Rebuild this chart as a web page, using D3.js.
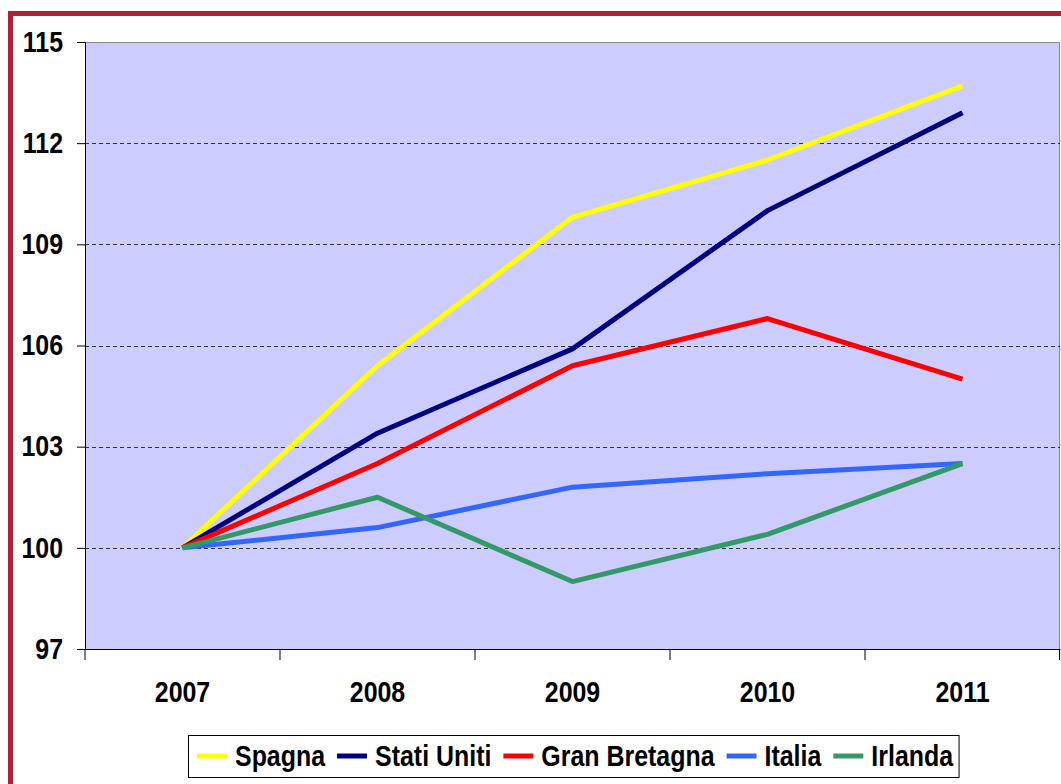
<!DOCTYPE html>
<html>
<head>
<meta charset="utf-8">
<script src="https://cdn.jsdelivr.net/npm/d3@7"></script>
<style>
  body { margin: 0; background: #fff; }
  text { font-family: "Liberation Sans", Arial, sans-serif; font-weight: bold; }
</style>
</head>
<body>
<div id="chart"></div>
<script>
// data
var years = ["2007", "2008", "2009", "2010", "2011"];
var yTicks = [97, 100, 103, 106, 109, 112, 115];
var seriesNames = ["Spagna", "Stati Uniti", "Gran Bretagna", "Italia", "Irlanda"];
var seriesColors = ["#ffff00", "#000080", "#ff0000", "#3366ff", "#339966"];
var spagna = [100, 105.4, 109.8, 111.5, 113.7];
var statiUniti = [100, 103.4, 105.9, 110.0, 112.9];
var granBretagna = [100, 102.5, 105.4, 106.8, 105.0];
var italia = [100, 100.6, 101.8, 102.2, 102.5];
var irlanda = [100, 101.5, 99.0, 100.4, 102.5];
var allSeries = [spagna, statiUniti, granBretagna, italia, irlanda];

var W = 1061, H = 784;
var sx = 0.86; // text in the original is horizontally squeezed
var margin = {top: 42, right: 1, bottom: 135, left: 85},
    width = W - margin.left - margin.right,
    height = H - margin.top - margin.bottom;

var svg = d3.select("#chart").append("svg")
    .attr("width", W).attr("height", H);

// outer red frame (right/bottom sides fall outside the picture)
svg.append("rect")
    .attr("x", 10.5).attr("y", 13.5)
    .attr("width", W + 20).attr("height", H + 20)
    .attr("fill", "#fff").attr("stroke", "#b3202f").attr("stroke-width", 5);

var g = svg.append("g")
    .attr("transform", "translate(" + margin.left + "," + margin.top + ")");

var x = d3.scaleBand().domain(years).range([0, width]).padding(0);
var y = d3.scaleLinear().domain([97, 115]).range([height, 0]);

// plot area
g.append("rect")
    .attr("width", width).attr("height", height)
    .attr("fill", "#ccccff");
g.append("path")
    .attr("d", "M0,0.5H" + (width - 0.5) + "V" + height)
    .attr("fill", "none").attr("stroke", "#888").attr("stroke-width", 1);

// grid
g.selectAll(".grid").data(yTicks.filter(function(d){ return d > 97 && d < 115; }))
  .enter().append("line")
    .attr("x1", 0).attr("x2", width)
    .attr("y1", function(d){ return Math.round(y(d)) + 0.5; })
    .attr("y2", function(d){ return Math.round(y(d)) + 0.5; })
    .attr("stroke", "#333").attr("stroke-dasharray", "4,3");

// y axis
var yAxis = d3.axisLeft(y).tickValues(yTicks).tickSize(8).tickPadding(14);
g.append("g").call(yAxis)
  .call(function(a){
    a.select(".domain").attr("stroke", "#000");
    a.selectAll("text").attr("font-size", 29).attr("fill", "#000")
      .attr("font-family", null)
      .attr("x", -22 / sx)
      .attr("transform", "scale(" + sx + ",1)");
  });

// x axis: labels centered, ticks at the category borders
var xAxis = d3.axisBottom(x).tickSize(0).tickPadding(32);
g.append("g").attr("transform", "translate(0," + height + ")").call(xAxis)
  .call(function(a){
    a.select(".domain").attr("stroke", "#000");
    a.selectAll("text").attr("font-size", 29).attr("fill", "#000")
      .attr("font-family", null)
      .attr("transform", "scale(" + sx + ",1)");
  });
var bounds = years.map(function(d){ return x(d); }).concat([width]);
g.selectAll(".xtick").data(bounds).enter().append("line")
    .attr("x1", function(d){ return Math.min(d, width - 0.5); })
    .attr("x2", function(d){ return Math.min(d, width - 0.5); })
    .attr("y1", height).attr("y2", height + 11)
    .attr("stroke", "#000");

// lines
var line = d3.line()
    .x(function(d, i){ return x(years[i]) + x.bandwidth() / 2; })
    .y(function(d){ return y(d); });

g.selectAll(".series").data(allSeries).enter().append("path")
    .attr("d", line)
    .attr("fill", "none")
    .attr("stroke", function(d, i){ return seriesColors[i]; })
    .attr("stroke-width", 5)
    .attr("stroke-linejoin", "round");

// legend
var legend = svg.append("g");
var box = legend.append("rect")
    .attr("x", 188.5).attr("y", 735.5).attr("height", 42)
    .attr("fill", "#fff").attr("stroke", "#000");
var lx = 197;
seriesNames.forEach(function(name, i){
  legend.append("line")
    .attr("x1", lx).attr("x2", lx + 30)
    .attr("y1", 756).attr("y2", 756)
    .attr("stroke", seriesColors[i]).attr("stroke-width", 5);
  var t = legend.append("text")
    .attr("transform", "translate(" + (lx + 38) + ",766) scale(" + sx + ",1)")
    .attr("font-size", 29).attr("fill", "#000")
    .text(name);
  lx += 38 + t.node().getComputedTextLength() * sx + 12;
});
box.attr("width", lx - 12 + 6 - 188.5);
</script>
</body>
</html>
